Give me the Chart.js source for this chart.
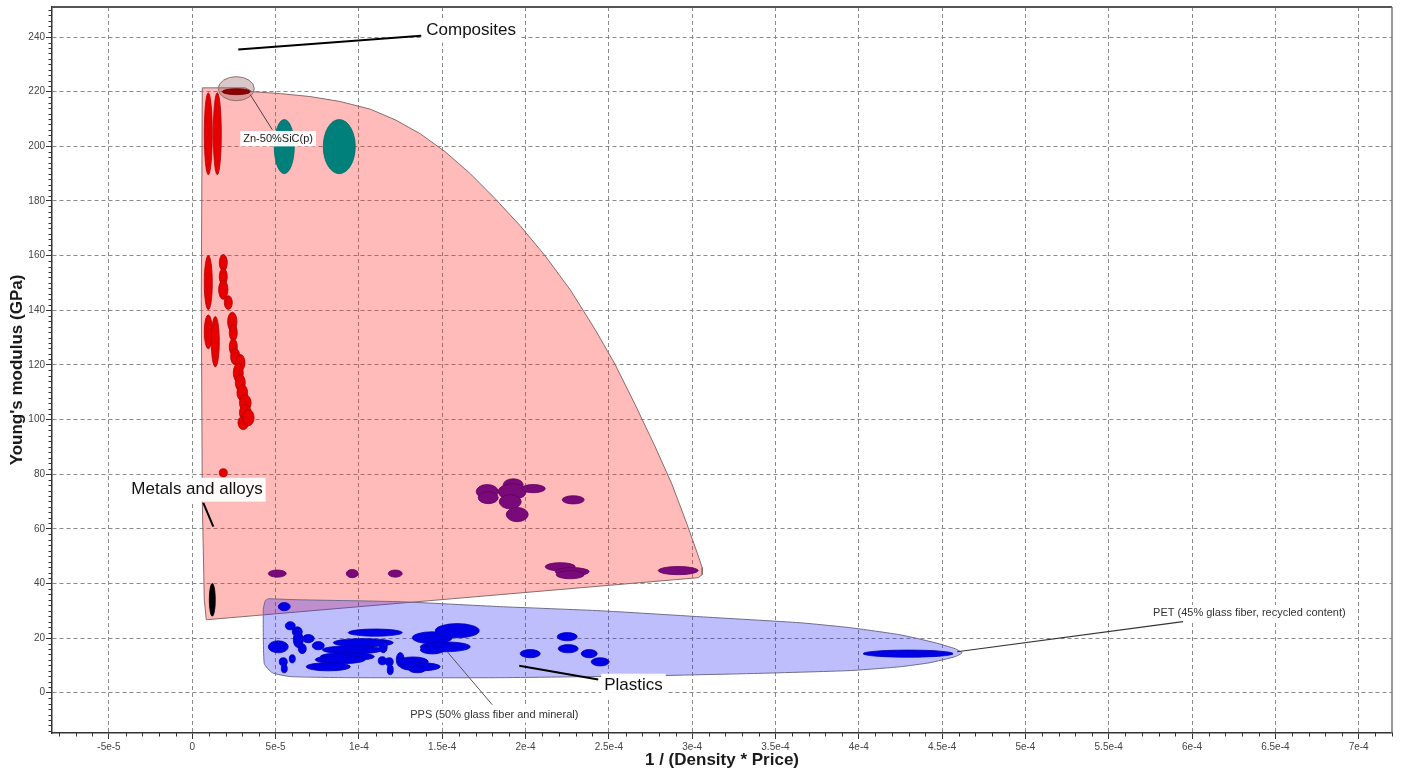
<!DOCTYPE html>
<html><head><meta charset="utf-8">
<script src="https://cdn.jsdelivr.net/npm/chart.js@4/dist/chart.umd.min.js"></script>
<style>html,body{margin:0;padding:0;background:#fff;}canvas{display:block;}</style>
</head><body>
<canvas id="c" width="1407" height="776"></canvas>
<script>
// ---------- tick labels ----------
const xMajorTicks = [-5e-5, 0, 5e-5, 1e-4, 1.5e-4, 2e-4, 2.5e-4, 3e-4, 3.5e-4, 4e-4, 4.5e-4, 5e-4, 5.5e-4, 6e-4, 6.5e-4, 7e-4];
const xTickLabels = ["-5e-5","0","5e-5","1e-4","1.5e-4","2e-4","2.5e-4","3e-4","3.5e-4","4e-4","4.5e-4","5e-4","5.5e-4","6e-4","6.5e-4","7e-4"];
const yMajorTicks = [0, 20, 40, 60, 80, 100, 120, 140, 160, 180, 200, 220, 240];
const yTickLabels = ["0","20","40","60","80","100","120","140","160","180","200","220","240"];

// ---------- envelopes (x = 1/(density*price), y = modulus GPa) ----------
const metalsEnvX = [6.0e-6, 3.18e-5, 3.6e-5, 5.28e-5, 7.08e-5, 8.88e-5, 1.068e-4, 1.218e-4, 1.368e-4, 1.518e-4, 1.668e-4, 1.818e-4, 1.968e-4, 2.118e-4, 2.268e-4, 2.418e-4, 2.538e-4, 2.658e-4, 2.778e-4, 2.88e-4, 2.97e-4, 3.03e-4, 3.06e-4, 3.06e-4, 3.036e-4, 8.4e-6, 7.2e-6, 6.0e-6, 5.4e-6, 6.0e-6];
const metalsEnvY = [221.4, 221.4, 220.0, 219.3, 218.2, 216.4, 213.6, 209.7, 204.6, 198.0, 190.0, 180.8, 170.9, 159.9, 147.5, 132.9, 120.1, 105.4, 90.0, 76.1, 61.5, 51.2, 45.8, 43.2, 42.1, 26.7, 34.0, 70.6, 143.9, 221.4];
const plasticsEnvX = [4.56e-5, 6.48e-5, 1.248e-4, 1.848e-4, 2.448e-4, 3.048e-4, 3.648e-4, 3.948e-4, 4.248e-4, 4.458e-4, 4.578e-4, 4.62e-4, 4.578e-4, 4.428e-4, 4.248e-4, 3.948e-4, 3.348e-4, 2.748e-4, 1.848e-4, 9.48e-5, 5.88e-5, 4.8e-5, 4.32e-5, 4.26e-5, 4.38e-5, 4.56e-5];
const plasticsEnvY = [34.4, 34.0, 33.3, 31.5, 30.0, 27.8, 25.6, 23.8, 21.2, 18.3, 16.1, 14.6, 13.2, 11.0, 9.5, 8.1, 7.0, 6.2, 5.5, 5.5, 5.9, 7.3, 10.6, 30.4, 33.7, 34.4];

// ---------- materials: [x centre, y centre, x half-range, y half-range] ----------
const steels = [
  [9.6e-6, 204.6, 2.4e-6, 15], [1.5e-5, 204.6, 2.4e-6, 15],
  [9.6e-6, 150.1, 2.4e-6, 9.9], [9.6e-6, 132.1, 2.4e-6, 6.2], [1.38e-5, 128.5, 2.4e-6, 9.2],
  [1.86e-5, 157.4, 2.4e-6, 3], [1.86e-5, 152.3, 2.4e-6, 3], [1.86e-5, 147.5, 2.8e-6, 3.5],
  [2.16e-5, 142.8, 2.4e-6, 2.5], [2.4e-5, 135.8, 2.8e-6, 3.5], [2.46e-5, 131.8, 2.4e-6, 3],
  [2.46e-5, 126.6, 2.4e-6, 3], [2.58e-5, 123.0, 2.8e-6, 3], [2.88e-5, 120.8, 2.8e-6, 3],
  [2.76e-5, 117.1, 3.0e-6, 3.5], [2.88e-5, 113.5, 3.0e-6, 3], [3.0e-5, 109.8, 3.2e-6, 3],
  [3.18e-5, 106.1, 3.5e-6, 3], [3.18e-5, 102.5, 3.5e-6, 3], [3.06e-5, 98.8, 3.2e-6, 2.5],
  [3.36e-5, 100.7, 3.5e-6, 3], [1.86e-5, 80.5, 2.4e-6, 1.5]
];
const tealMetals = [[5.52e-5, 199.9, 6.0e-6, 9.9], [8.82e-5, 199.9, 9.6e-6, 9.9]];
const purpleMetals = [
  [5.1e-5, 43.6, 5.4e-6, 1.3], [9.6e-5, 43.6, 3.6e-6, 1.5], [1.218e-4, 43.6, 4.2e-6, 1.3],
  [1.77e-4, 73.6, 6.6e-6, 2.6], [1.776e-4, 71.4, 6.0e-6, 2.2], [1.926e-4, 76.1, 6.0e-6, 2.2],
  [1.92e-4, 73.6, 8.4e-6, 2.9], [1.908e-4, 69.9, 6.6e-6, 2.6], [2.046e-4, 74.7, 7.2e-6, 1.5],
  [1.95e-4, 65.2, 6.6e-6, 2.6], [2.286e-4, 70.6, 6.6e-6, 1.5], [2.208e-4, 46.1, 9.0e-6, 1.5],
  [2.28e-4, 44.3, 1.02e-5, 1.5], [2.268e-4, 43.2, 8.4e-6, 1.5], [2.916e-4, 44.7, 1.2e-5, 1.5]
];
const blackMetals = [[1.2e-5, 34.0, 1.8e-6, 6.0]];
const znSicHalo = [[2.64e-5, 221.1, 1.08e-5, 4.4]];
const znSic = [[2.64e-5, 220.0, 8.4e-6, 1.1]];
const plastics = [
  [5.52e-5, 31.5, 3.6e-6, 1.5], [5.16e-5, 16.8, 6.0e-6, 2.2], [5.88e-5, 24.5, 3.0e-6, 1.5],
  [6.3e-5, 22.3, 3.0e-6, 1.8], [6.36e-5, 19.4, 3.0e-6, 2.9], [6.6e-5, 16.1, 2.4e-6, 1.8],
  [6.96e-5, 19.8, 3.6e-6, 1.5], [7.56e-5, 17.2, 3.6e-6, 1.5], [5.46e-5, 11.3, 2.4e-6, 1.5],
  [5.52e-5, 8.8, 1.8e-6, 1.5], [6.0e-5, 12.4, 1.8e-6, 1.5], [1.098e-4, 22.0, 1.62e-5, 1.3],
  [1.026e-4, 18.3, 1.8e-5, 1.5], [9.6e-5, 15.7, 1.8e-5, 1.5], [9.3e-5, 13.2, 1.62e-5, 1.5],
  [8.88e-5, 12.1, 1.5e-5, 1.5], [8.16e-5, 9.5, 1.32e-5, 1.5], [1.146e-4, 16.8, 2.4e-6, 2.2],
  [1.14e-4, 11.7, 2.4e-6, 1.5], [1.182e-4, 11.3, 2.4e-6, 1.5], [1.188e-4, 8.4, 1.8e-6, 1.8],
  [1.248e-4, 12.1, 2.4e-6, 2.6], [1.44e-4, 20.1, 1.2e-5, 2.2], [1.59e-4, 22.7, 1.32e-5, 2.6],
  [1.518e-4, 16.8, 1.5e-5, 1.8], [1.44e-4, 15.7, 7.2e-6, 1.5], [1.326e-4, 11.3, 9.0e-6, 1.8],
  [1.368e-4, 9.5, 1.2e-5, 1.5], [1.35e-4, 8.4, 4.8e-6, 1.1], [2.028e-4, 14.3, 6.0e-6, 1.5],
  [2.25e-4, 20.5, 6.0e-6, 1.5], [2.256e-4, 16.1, 6.0e-6, 1.5], [2.382e-4, 14.3, 4.8e-6, 1.5],
  [2.448e-4, 11.3, 5.4e-6, 1.5], [4.296e-4, 14.3, 2.7e-5, 1.3]
];

// ---------- annotations: text, text x, text y, leader from (x,y) to (x,y) ----------
const annotationTexts = ["Composites", "Zn-50%SiC(p)", "Metals and alloys", "Plastics", "PPS (50% glass fiber and mineral)", "PET (45% glass fiber, recycled content)"];
const annotationAt = [[1.404e-4, 242.3], [3.06e-5, 202.8], [-3.66e-5, 74.3], [2.472e-4, 2.6], [1.308e-4, -8.1], [5.766e-4, 29.3]];
const annotationLeaders = [
  [2.76e-5, 235.4, 1.374e-4, 240.5], [3.48e-5, 218.9, 4.8e-5, 206.1], [6.6e-6, 69.5, 1.26e-5, 60.8],
  [1.962e-4, 9.9, 2.436e-4, 4.8], [1.53e-4, 15.0, 1.8e-4, -4.4], [4.59e-4, 15.0, 5.946e-4, 26.0]
];

// ---------- styles ----------
const FONT = "'Liberation Sans', Arial, Helvetica, sans-serif";
const families = [
  {data: znSicHalo, fill: 'rgba(150,95,95,0.35)', stroke: '#8a7070', lw: 1},
  {data: steels, fill: '#e60000', stroke: '#b00000', lw: 0.8},
  {data: znSic, fill: '#8b0000', stroke: '#6a0000', lw: 0.8},
  {data: tealMetals, fill: '#00807a', stroke: '#006a64', lw: 0.8},
  {data: purpleMetals, fill: '#7a0a7a', stroke: '#5e005e', lw: 0.8},
  {data: blackMetals, fill: '#000000', stroke: '#000000', lw: 0.8},
  {data: plastics, fill: '#0000e6', stroke: '#0000b4', lw: 0.8}
];
const annotationStyle = [
  {size: 17, box: true, lw: 2, lc: '#000', color: '#111'},
  {size: 11, box: true, lw: 1, lc: '#444', color: '#222'},
  {size: 17, box: true, lw: 2, lc: '#000', color: '#111'},
  {size: 17, box: true, lw: 2, lc: '#000', color: '#111'},
  {size: 11, box: true, lw: 1, lc: '#555', color: '#333'},
  {size: 11, box: true, lw: 1.2, lc: '#333', color: '#333'}
];

function pts(xs, ys) { return xs.map((v, i) => ({x: v, y: ys[i]})); }

const ellipsePlugin = {
  id: 'ellipses',
  afterDatasetsDraw(chart) {
    const {ctx, chartArea: a} = chart;
    const x = chart.scales.x, y = chart.scales.y;
    ctx.save();
    ctx.beginPath(); ctx.rect(a.left, a.top, a.right - a.left, a.bottom - a.top); ctx.clip();
    for (const fam of families) {
      for (const [cx, cy, dx, dy] of fam.data) {
        const px = x.getPixelForValue(cx), py = y.getPixelForValue(cy);
        const rx = Math.abs(x.getPixelForValue(cx + dx) - px);
        const ry = Math.abs(y.getPixelForValue(cy + dy) - py);
        ctx.beginPath(); ctx.ellipse(px, py, rx, ry, 0, 0, Math.PI * 2);
        ctx.fillStyle = fam.fill; ctx.fill();
        ctx.strokeStyle = fam.stroke; ctx.lineWidth = fam.lw; ctx.stroke();
      }
    }
    ctx.restore();
  }
};

const decorPlugin = {
  id: 'decor',
  afterDraw(chart) {
    const {ctx, chartArea: a} = chart;
    const x = chart.scales.x, y = chart.scales.y;
    ctx.save();
    // minor ticks
    ctx.strokeStyle = '#333'; ctx.lineWidth = 1;
    ctx.beginPath();
    for (let k = -8; k <= 72; k++) {
      if (k % 5 === 0) continue;
      const px = Math.round(x.getPixelForValue(k * 1e-5)) + 0.5;
      ctx.moveTo(px, a.bottom); ctx.lineTo(px, a.bottom + 3.5);
    }
    for (let k = -7; k <= 125; k++) {
      if (k % 10 === 0) continue;
      const py = Math.round(y.getPixelForValue(k * 2)) + 0.5;
      ctx.moveTo(a.left - 3.5, py); ctx.lineTo(a.left, py);
    }
    ctx.stroke();
    // frame top / right
    ctx.strokeStyle = '#555'; ctx.lineWidth = 2;
    ctx.beginPath(); ctx.moveTo(a.left, a.top); ctx.lineTo(a.right, a.top); ctx.stroke();
    ctx.strokeStyle = '#777'; ctx.lineWidth = 1.5;
    ctx.beginPath(); ctx.moveTo(a.right, a.top); ctx.lineTo(a.right, a.bottom); ctx.stroke();
    // annotations
    annotationTexts.forEach((t, i) => {
      const st = annotationStyle[i];
      const [x1, y1, x2, y2] = annotationLeaders[i];
      ctx.strokeStyle = st.lc; ctx.lineWidth = st.lw;
      ctx.beginPath();
      ctx.moveTo(x.getPixelForValue(x1), y.getPixelForValue(y1));
      ctx.lineTo(x.getPixelForValue(x2), y.getPixelForValue(y2));
      ctx.stroke();
    });
    annotationTexts.forEach((t, i) => {
      const st = annotationStyle[i];
      const tx = x.getPixelForValue(annotationAt[i][0]);
      const ty = y.getPixelForValue(annotationAt[i][1]);
      ctx.font = st.size + 'px ' + FONT;
      const w = ctx.measureText(t).width;
      if (st.box) {
        ctx.fillStyle = 'rgba(255,255,255,0.95)';
        ctx.fillRect(tx - 3, ty - st.size * 0.7, w + 6, st.size * 1.4);
      }
      ctx.fillStyle = st.color; ctx.textBaseline = 'middle'; ctx.textAlign = 'left';
      ctx.fillText(t, tx, ty);
    });
    ctx.restore();
  }
};

const gridCommon = {color: '#8a8a8a', lineWidth: 1, tickLength: 6, tickColor: '#333', tickWidth: 1};

new Chart(document.getElementById('c'), {
  type: 'scatter',
  data: {
    datasets: [
      {label: 'Plastics', data: pts(plasticsEnvX, plasticsEnvY), showLine: true, fill: 'shape',
       backgroundColor: 'rgba(40,40,250,0.3)', borderColor: '#6c6c8c', borderWidth: 1, pointRadius: 0, tension: 0.15},
      {label: 'Metals and alloys', data: pts(metalsEnvX, metalsEnvY), showLine: true, fill: 'shape',
       backgroundColor: 'rgba(255,40,40,0.32)', borderColor: '#8c6a6a', borderWidth: 1, pointRadius: 0, tension: 0}
    ]
  },
  options: {
    responsive: false, animation: false, events: [],
    layout: {padding: {top: 7, right: 15, left: 0, bottom: 0}},
    plugins: {legend: {display: false}, tooltip: {enabled: false}},
    scales: {
      x: {
        type: 'linear', min: -8.42e-5, max: 7.2e-4,
        afterBuildTicks: s => { s.ticks = xMajorTicks.map(v => ({value: v})); },
        afterFit: s => { s.height = 43; },
        ticks: {autoSkip: false, maxRotation: 0, padding: 2, color: '#444', font: {family: FONT, size: 10},
                callback: (v, i) => xTickLabels[i]},
        grid: gridCommon,
        border: {color: '#333', width: 1.5, dash: [4, 3]},
        title: {display: true, text: '1 / (Density * Price)', color: '#1a1a1a',
                font: {family: FONT, size: 17, weight: 'bold'}, padding: {top: 5, bottom: 5}}
      },
      y: {
        type: 'linear', min: -14.75, max: 251,
        afterBuildTicks: s => { s.ticks = yMajorTicks.map(v => ({value: v})); },
        afterFit: s => { s.width = 52; },
        ticks: {autoSkip: false, padding: 1, color: '#444', font: {family: FONT, size: 10},
                callback: (v, i) => yTickLabels[i]},
        grid: gridCommon,
        border: {color: '#333', width: 1.5, dash: [4, 3]},
        title: {display: true, text: "Young's modulus (GPa)", color: '#1a1a1a',
                font: {family: FONT, size: 17, weight: 'bold'}, padding: {top: 7, bottom: 7}}
      }
    }
  },
  plugins: [ellipsePlugin, decorPlugin]
});
</script>
</body></html>
